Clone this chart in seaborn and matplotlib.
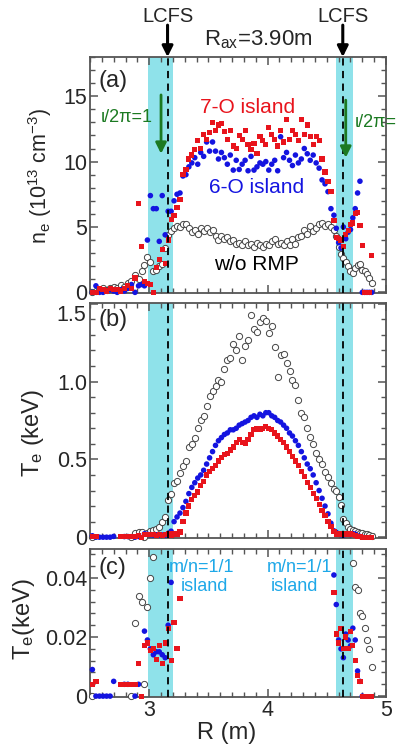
import numpy as np
import pandas as pd
import matplotlib
matplotlib.use("Agg")
import matplotlib.pyplot as plt
from matplotlib.ticker import MultipleLocator, FuncFormatter
import seaborn as sns

nan = np.nan

R = [2.52, 2.55, 2.58, 2.61, 2.64, 2.67, 2.70, 2.73, 2.76, 2.79, 2.82, 2.85, 2.88, 2.91,
     2.935, 2.96, 2.985, 3.01, 3.035, 3.06, 3.085, 3.11, 3.135, 3.16, 3.185, 3.21, 3.235,
     3.26, 3.285, 3.31, 3.335, 3.36, 3.385, 3.41, 3.435, 3.46, 3.485, 3.51, 3.535, 3.56,
     3.585, 3.61, 3.635, 3.66, 3.685, 3.71, 3.735, 3.76, 3.785, 3.81, 3.835, 3.86, 3.885,
     3.91, 3.935, 3.96, 3.985, 4.01, 4.035, 4.06, 4.085, 4.11, 4.135, 4.16, 4.185, 4.21,
     4.235, 4.26, 4.285, 4.31, 4.335, 4.36, 4.385, 4.41, 4.435, 4.46, 4.485, 4.51, 4.535,
     4.56, 4.58, 4.60, 4.62, 4.64, 4.66, 4.68, 4.70, 4.72, 4.74, 4.76, 4.78, 4.80, 4.82,
     4.84, 4.86, 4.88]

ne_7O = [0.0, 0.0, 0.3, 0.2, 0.1, 0.3, 0.2, 0.2, 0.1, 0.3, 0.5, 0.3, 1.1, 6.8,
         3.5, 0.8, 0.7, 0.6, 0.0, 1.9, 2.5, 3.3, 2.2, 4.0, 5.6, 5.9, 6.5,
         7.1, 9.0, 9.4, 10.2, 10.5, 10.9, 11.6, 11.0, 12.1, 11.7, 12.2, 13.0, 12.4,
         12.8, 12.9, 12.3, 11.7, 12.4, 11.2, 11.0, 12.0, 11.7, 12.4, 11.3, 10.9, 11.4,
         10.6, 11.9, 11.6, 11.3, 12.6, 12.1, 11.7, 11.2, 12.4, 11.5, 13.2, 11.7, 12.4,
         12.1, 11.6, 13.2, 12.1, 12.8, 11.9, 11.3, 11.9, 11.6, 10.2, 9.2, 8.5, 7.7,
         5.5, 4.2, 4.1, 4.0, 3.5, 4.4, 4.7, 5.2, 5.3, 6.0, 6.1, 5.1, 3.6, 0.0,
         0.0, 0.0, 2.8]

ne_6O = [0.0, 0.5, 0.0, 0.0, 0.1, 0.2, 0.1, 0.0, 0.2, 0.1, 0.3, 0.6, 0.0, 0.5,
         0.6, 0.5, 4.0, 7.4, 6.4, 6.4, 3.9, 7.4, 4.4, 6.2, 6.2, 7.0, 7.5,
         7.6, 8.9, 9.0, 9.6, 9.9, 10.3, 9.8, 10.7, 10.4, 11.5, 10.8, 11.5, 10.8,
         10.2, 10.7, 10.3, 9.8, 10.5, 9.35, 10.1, 9.4, 9.8, 10.1, 9.3, 10.4, 9.35,
         9.6, 9.9, 9.8, 10.0, 9.35, 9.8, 10.1, 9.3, 11.9, 10.3, 10.7, 10.1, 9.7,
         10.5, 9.9, 10.2, 11.0, 10.6, 10.1, 10.5, 9.9, 9.5, 8.6, 8.3, 7.7, 6.4,
         5.9, 4.9, 3.8, 3.4, 5.0, 4.1, 4.6, 4.8, 5.7, 6.4, 7.6, 8.5, 0.0, 0.0,
         0.0, 0.0, 0.0]

ne_wo = [0.0, 0.1, 0.2, 0.3, 0.2, 0.3, 0.4, 0.3, 0.6, 0.4, 0.7, 0.9, 1.3, 1.0,
         1.6, 2.1, 2.7, 2.3, 1.6, 1.7, 2.0, 2.2, 3.4, 4.4, 4.7, 4.9, 5.1,
         5.0, 5.2, 5.2, 4.9, 4.6, 4.8, 4.5, 4.9, 4.7, 4.9, 4.6, 4.8, 4.3,
         4.0, 4.3, 4.1, 4.2, 3.9, 4.0, 3.7, 3.8, 3.6, 3.9, 3.6, 3.7, 3.5,
         3.8, 3.6, 3.5, 3.7, 3.6, 3.9, 4.1, 3.7, 3.8, 3.6, 3.9, 3.6, 4.1,
         3.7, 4.2, 4.3, 4.8, 4.5, 5.1, 4.7, 4.9, 5.2, 5.3, 5.1, 5.2, 5.0,
         4.8, 4.3, 3.5, 2.9, 2.6, 2.3, 2.0, 1.6, 1.5, 1.9, 2.1, 2.2, 1.7, 1.6,
         1.4, 1.1, 0.7]

Te_7O = [0.004, 0.005, nan, nan, nan, nan, nan, nan, 0.004, 0.004, 0.004, 0.004, 0.004, 0.011,
         0.0, 0.017, 0.018, 0.0155, 0.016, 0.0125, 0.017, 0.011, 0.018, 0.023, 0.012, 0.025, 0.016,
         0.033, 0.10, 0.155, 0.20, 0.24, 0.27, 0.29, 0.33, 0.36, 0.40, 0.42, 0.44, 0.46,
         0.49, 0.51, 0.53, 0.54, 0.56, 0.58, 0.61, 0.63, 0.61, 0.60, 0.63, 0.66, 0.69,
         0.70, 0.69, 0.70, 0.71, 0.70, 0.69, 0.67, 0.65, 0.63, 0.61, 0.58, 0.55, 0.52,
         0.49, 0.46, 0.42, 0.39, 0.35, 0.32, 0.28, 0.25, 0.21, 0.17, 0.14, 0.10, 0.07,
         0.035, 0.021, 0.018, 0.023, 0.016, 0.020, 0.016, 0.022, 0.017, 0.012, 0.007, 0.005, 0.0, 0.0,
         0.0, 0.0, 0.0]

Te_6O = [0.009, 0.0, 0.0, 0.0, 0.0, 0.0, 0.005, nan, nan, 0.004, 0.004, nan, 0.0, 0.004,
         nan, 0.022, 0.019, 0.016, 0.014, 0.015, 0.015, 0.014, 0.013, 0.024, 0.0385, 0.10, 0.13,
         0.155, 0.19, 0.23, 0.28, 0.32, 0.35, 0.38, 0.40, 0.43, 0.47, 0.51, 0.55, 0.59,
         0.62, 0.64, 0.66, 0.67, 0.69, 0.69, 0.70, 0.72, 0.73, 0.74, 0.75, 0.77, 0.78,
         0.77, 0.79, 0.78, 0.80, 0.80, 0.78, 0.77, 0.75, 0.74, 0.72, 0.70, 0.67, 0.65,
         0.62, 0.59, 0.55, 0.51, 0.47, 0.44, 0.40, 0.35, 0.30, 0.25, 0.20, 0.15, 0.09,
         0.041, 0.031, 0.019, 0.016, 0.013, 0.021, 0.019, 0.017, 0.023, 0.019, 0.0085, 0.005, 0.0, nan,
         nan, nan, nan]

Te_wo = [0.0, nan, nan, nan, nan, nan, nan, nan, nan, nan, nan, 0.0, 0.0247, 0.034,
         0.032, 0.004, 0.030, 0.040, 0.047, 0.055, 0.068, 0.10, 0.13, 0.24, 0.28, 0.35, 0.36,
         0.41, 0.46, 0.49, 0.58, 0.60, 0.64, 0.70, 0.75, 0.78, 0.84, 0.91, 0.94, 0.97,
         1.01, 1.00, 1.08, 1.14, 1.15, 1.24, 1.20, 1.29, 1.14, 1.23, 1.27, 1.43, 1.34,
         1.32, 1.38, 1.41, 1.39, 1.31, 1.36, 1.22, 1.03, 1.17, 1.18, 1.12, 1.07, 1.01,
         0.98, 0.88, 0.80, 0.77, 0.70, 0.645, 0.60, 0.54, 0.50, 0.47, 0.42, 0.39, 0.35,
         0.31, 0.30, 0.26, 0.21, 0.12, 0.09, 0.068, 0.055, 0.045, 0.037, 0.036, 0.028, 0.027, 0.023,
         0.019, 0.016, 0.010]

bands = [(2.99, 3.20), (4.58, 4.72)]
lcfs = [3.155, 4.635]

df = pd.DataFrame({"R": R, "ne_7O": ne_7O, "ne_6O": ne_6O, "ne_wo": ne_wo,
                   "Te_7O": Te_7O, "Te_6O": Te_6O, "Te_wo": Te_wo})

sns.set_style("ticks")
plt.rcParams["font.family"] = ["Liberation Sans", "DejaVu Sans"]
plt.rcParams["mathtext.fontset"] = "custom"
plt.rcParams["mathtext.rm"] = "Liberation Sans"
plt.rcParams["mathtext.it"] = "Liberation Sans:italic"

RED = "#e8141c"
BLUE = "#1414e0"
CYAN_BAND = "#8fe2ea"
GREEN = "#1c7a22"
CYAN_TXT = "#1ea8e8"
FRAME = "#555555"

W, H = 397, 748
fig = plt.figure(figsize=(W / 100, H / 100), dpi=100)

def rect(top, bottom, left=90, right=386):
    return [left / W, 1 - bottom / H, (right - left) / W, (bottom - top) / H]

ax_a = fig.add_axes(rect(57, 293))
ax_b = fig.add_axes(rect(303, 537.5))
ax_c = fig.add_axes(rect(549, 697))

def draw(ax, col, data):
    sns.scatterplot(data=data, x="R", y=col.replace("X", "wo"), ax=ax, marker="o", s=20,
                    facecolor="white", edgecolor="#444444", linewidth=0.7, legend=False,
                    clip_on=False, zorder=3)
    sns.scatterplot(data=data, x="R", y=col.replace("X", "6O"), ax=ax, marker="o", s=16,
                    color=BLUE, edgecolor="none", linewidth=0, legend=False,
                    clip_on=False, zorder=4)
    sns.scatterplot(data=data, x="R", y=col.replace("X", "7O"), ax=ax, marker="s", s=14,
                    color=RED, edgecolor="none", linewidth=0, legend=False,
                    clip_on=False, zorder=5)

draw(ax_a, "ne_X", df)
draw(ax_b, "Te_X", df)
dfc = df.copy()
for c in ["Te_7O", "Te_6O", "Te_wo"]:
    dfc.loc[dfc[c] > 0.049, c] = nan
draw(ax_c, "Te_X", dfc)

ylims = {ax_a: (-0.05, 18.0), ax_b: (-0.002, 1.505), ax_c: (-0.0003, 0.0498)}
for ax in (ax_a, ax_b, ax_c):
    for lo, hi in bands:
        ax.axvspan(lo, hi, color=CYAN_BAND, lw=0, zorder=0)
    for x in lcfs:
        ax.axvline(x, color="k", lw=1.3, ls=(0, (4, 3)), zorder=6)
    ax.set_xlim(2.5, 5.0)
    ax.set_ylim(*ylims[ax])
    ax.set_xlabel("")
    ax.set_ylabel("")
    ax.xaxis.set_major_locator(MultipleLocator(1))
    ax.xaxis.set_minor_locator(MultipleLocator(0.1))
    ax.tick_params(which="both", direction="in", top=True, right=True, color=FRAME,
                   labelsize=15.5, pad=2)
    ax.tick_params(which="major", length=6, width=1.1)
    ax.tick_params(which="minor", length=3.5, width=1.0)
    for sp in ax.spines.values():
        sp.set_color(FRAME)
        sp.set_linewidth(1.3)

ax_a.yaxis.set_major_locator(MultipleLocator(5))
ax_a.yaxis.set_minor_locator(MultipleLocator(1))
ax_b.yaxis.set_major_locator(MultipleLocator(0.5))
ax_b.yaxis.set_minor_locator(MultipleLocator(0.1))

def fmt_b(v, p):
    if abs(v) < 1e-9:
        return "0"
    if abs(v - 1.5) < 1e-9:
        return ""
    return f"{v:.1f}"

ax_b.yaxis.set_major_formatter(FuncFormatter(fmt_b))
# top label of panel (b) sits a little below the frame, as in the reference
ax_b.text(-0.012, 1.425, "1.5", transform=ax_b.get_yaxis_transform(), ha="right",
          va="center", fontsize=15.5, clip_on=False)
ax_c.yaxis.set_major_locator(MultipleLocator(0.02))
ax_c.yaxis.set_minor_locator(MultipleLocator(0.004))
ax_c.yaxis.set_major_formatter(FuncFormatter(lambda v, p: "0" if abs(v) < 1e-9 else f"{v:.2f}"))
ax_a.tick_params(labelbottom=False)
ax_b.tick_params(labelbottom=False)

# top annotations
for x in lcfs:
    ax_a.annotate("", xy=(x, 1.0), xycoords=("data", "axes fraction"),
                  xytext=(x, 1.135), textcoords=("data", "axes fraction"),
                  arrowprops=dict(arrowstyle="-|>", color="k", lw=2.2, mutation_scale=16,
                                  shrinkA=0, shrinkB=0), annotation_clip=False)
    ax_a.text(x, 1.17, "LCFS", transform=ax_a.get_xaxis_transform(), ha="center",
              va="center", fontsize=14.5, clip_on=False)
ax_a.text(3.92, 1.072, r"R$_\mathregular{ax}$=3.90m", transform=ax_a.get_xaxis_transform(),
          ha="center", va="center", fontsize=16, clip_on=False)

# panel labels
ax_a.text(0.03, 0.90, "(a)", transform=ax_a.transAxes, fontsize=17, va="center", ha="left")
ax_b.text(0.03, 0.927, "(b)", transform=ax_b.transAxes, fontsize=17, va="center", ha="left")
ax_c.text(0.03, 0.87, "(c)", transform=ax_c.transAxes, fontsize=17, va="center", ha="left")

# panel (a) texts
ax_a.text(3.83, 14.1, "7-O island", color=RED, fontsize=15, ha="center", va="center")
ax_a.text(3.91, 8.05, "6-O island", color=BLUE, fontsize=15, ha="center", va="center")
ax_a.text(3.91, 2.1, "w/o RMP", color="k", fontsize=15, ha="center", va="center")
for x, y0, y1 in [(3.10, 15.1, 10.6), (4.66, 14.7, 10.3)]:
    ax_a.annotate("", xy=(x, y1), xytext=(x, y0),
                  arrowprops=dict(arrowstyle="-|>", color=GREEN, lw=2.0, mutation_scale=16,
                                  shrinkA=0, shrinkB=0), zorder=7)
ax_a.text(2.81, 13.4, "ι/2π=1", color=GREEN, fontsize=13, ha="center", va="center")
ax_a.text(4.74, 13.0, "ι/2π=1", color=GREEN, fontsize=13, ha="left", va="center", clip_on=False)

# panel (c) texts
for xc, xi in [(3.445, 3.47), (4.27, 4.23)]:
    ax_c.text(xc, 0.0437, "m/n=1/1", color=CYAN_TXT, fontsize=13, ha="center", va="center")
    ax_c.text(xi, 0.037, "island", color=CYAN_TXT, fontsize=13, ha="center", va="center")

# axis labels
fig.text(40 / W, 1 - 176 / H, r"n$_\mathregular{e}$ (10$^\mathregular{13}$ cm$^\mathregular{-3}$)",
         rotation=90, ha="center", va="center", fontsize=15.5)
fig.text(33 / W, 1 - 433 / H, r"T$_\mathregular{e}$ (keV)", rotation=90, ha="center",
         va="center", fontsize=17)
fig.text(24 / W, 1 - 619 / H, r"T$_\mathregular{e}$(keV)", rotation=90, ha="center",
         va="center", fontsize=17)
fig.text(227 / W, 1 - 733 / H, "R (m)", ha="center", va="center", fontsize=17)

fig.savefig("out.png", dpi=100)
